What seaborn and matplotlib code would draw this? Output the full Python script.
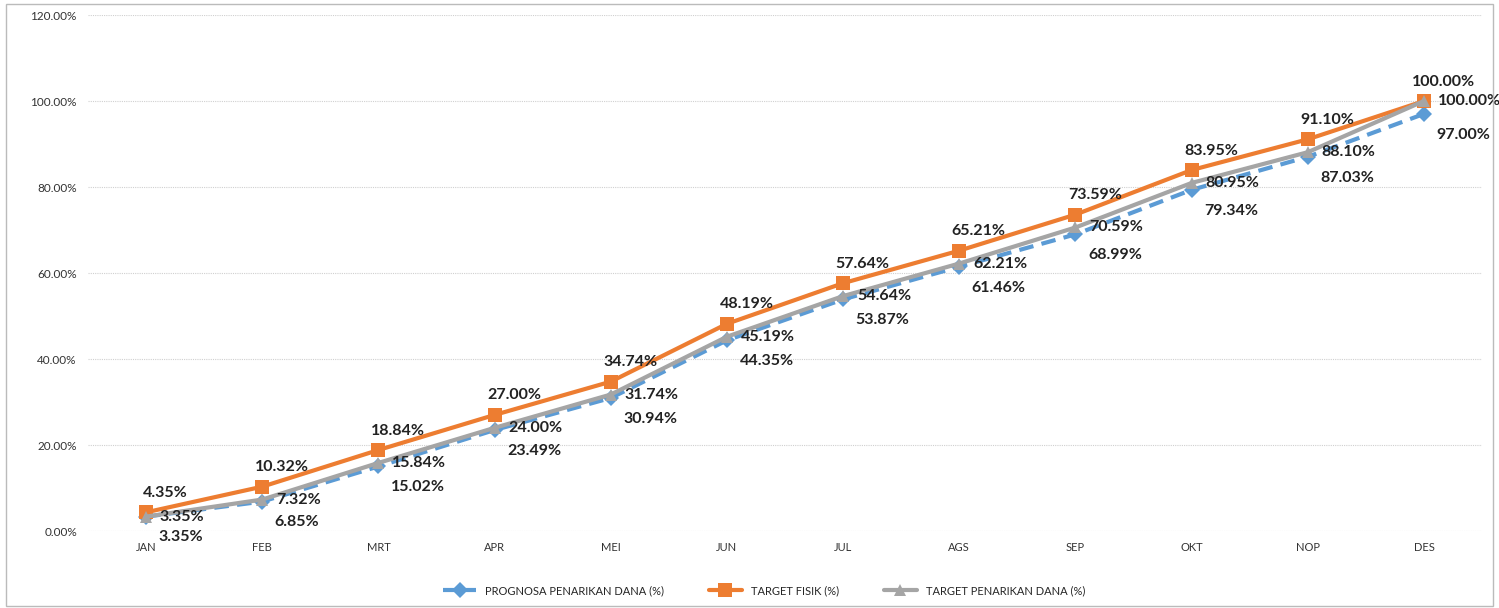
import pandas as pd
import numpy as np
import seaborn as sns
import matplotlib.pyplot as plt
from matplotlib.patches import Rectangle

# Data
months = ['JAN', 'FEB', 'MRT', 'APR', 'MEI', 'JUN', 'JUL', 'AGS', 'SEP', 'OKT', 'NOP', 'DES']
prognosa = [3.35, 6.85, 15.02, 23.49, 30.94, 44.35, 53.87, 61.46, 68.99, 79.34, 87.03, 97.00]
target_fisik = [4.35, 10.32, 18.84, 27.00, 34.74, 48.19, 57.64, 65.21, 73.59, 83.95, 91.10, 100.00]
target_dana = [3.35, 7.32, 15.84, 24.00, 31.74, 45.19, 54.64, 62.21, 70.59, 80.95, 88.10, 100.00]
y_ticks = [0, 20, 40, 60, 80, 100, 120]

sns.set_theme(style="white")
plt.rcParams['font.family'] = ['Lato', 'DejaVu Sans']

fig = plt.figure(figsize=(14.99, 6.08), dpi=100)
ax = fig.add_axes([0.0587, 0.1266, 0.93, 0.8487])

x = np.arange(len(months))
df = pd.DataFrame({'x': x, 'prognosa': prognosa, 'fisik': target_fisik, 'dana': target_dana})

blue = '#5B9BD5'
orange = '#ED7D31'
grey = '#A5A5A5'

sns.lineplot(data=df, x='x', y='prognosa', ax=ax, color=blue, linewidth=3,
             linestyle=(0, (3.5, 2)), marker='D', markersize=8, markeredgewidth=0,
             label='PROGNOSA PENARIKAN DANA (%)', zorder=3)
sns.lineplot(data=df, x='x', y='fisik', ax=ax, color=orange, linewidth=3,
             marker='s', markersize=10, markeredgewidth=0,
             label='TARGET FISIK (%)', zorder=4)
sns.lineplot(data=df, x='x', y='dana', ax=ax, color=grey, linewidth=3,
             marker='^', markersize=9, markeredgewidth=0,
             label='TARGET PENARIKAN DANA (%)', zorder=5)

# data labels
lab_kw = dict(fontsize=11.5, fontweight='bold', color='#222222', zorder=6,
              textcoords='offset points', va='center')
for i in range(len(months)):
    ax.annotate(f'{target_fisik[i]:.2f}%', (x[i], target_fisik[i]), xytext=(14, 14),
                ha='center', **lab_kw)
    ax.annotate(f'{target_dana[i]:.2f}%', (x[i], target_dana[i]), xytext=(10, 0),
                ha='left', **lab_kw)
    ax.annotate(f'{prognosa[i]:.2f}%', (x[i], prognosa[i]), xytext=(9, -15),
                ha='left', **lab_kw)

ax.set_xlim(-0.5, len(months) - 0.5)
ax.set_ylim(0, 120)
ax.set_xticks(x)
ax.set_xticklabels(months, fontsize=8, color='#333333')
ax.set_yticks(y_ticks)
ax.set_yticklabels([f'{v:.2f}%' for v in y_ticks], fontsize=8.5, color='#333333')
ax.tick_params(axis='both', length=0, pad=8)
ax.set_xlabel('')
ax.set_ylabel('')
ax.yaxis.grid(True, color='#d0d0d0', linewidth=0.8, linestyle=(0, (1, 1)))
for s in ax.spines.values():
    s.set_visible(False)

ax.legend(loc='upper center', bbox_to_anchor=(0.485, -0.085), ncol=3, frameon=False,
          fontsize=8, handlelength=3, columnspacing=4)

fig.patches.append(Rectangle((0.004, 0.004), 0.992, 0.99, transform=fig.transFigure,
                             fill=False, edgecolor='#bbbbbb', linewidth=1))

fig.savefig('out.png', dpi=100)
